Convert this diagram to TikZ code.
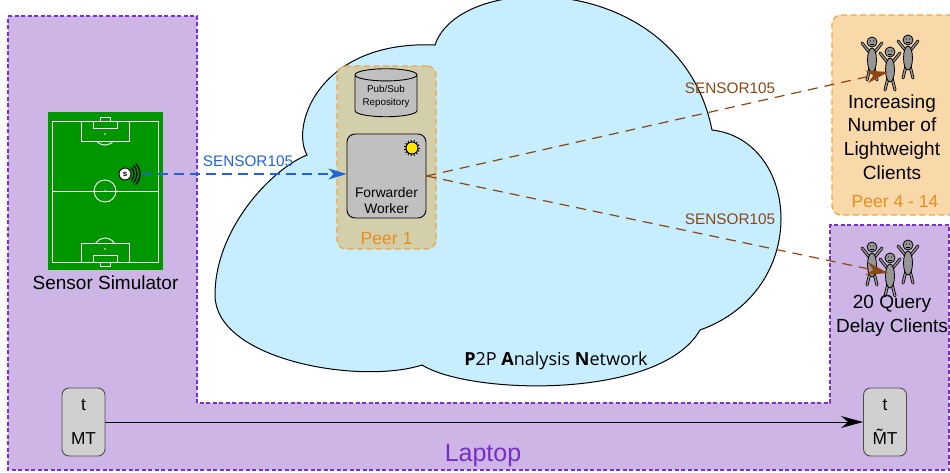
\documentclass[tikz,border=0pt]{standalone}
\usepackage{fontspec}
\setmainfont{Liberation Sans}
\newfontfamily\netfont{Open Sans}
\usetikzlibrary{arrows.meta, shapes.geometric, positioning}

\definecolor{laptopfill}{RGB}{205,182,230}
\definecolor{laptopedge}{RGB}{125,45,210}
\definecolor{laptoptext}{RGB}{120,45,200}
\definecolor{cloudfill}{RGB}{199,238,254}
\definecolor{peeredge}{RGB}{240,165,70}
\definecolor{peertext}{RGB}{235,140,30}
\definecolor{peeronefill}{RGB}{211,207,170}
\definecolor{peerfourfill}{RGB}{249,217,170}
\definecolor{boxgray}{RGB}{192,192,192}
\definecolor{clockgray}{RGB}{208,208,208}
\definecolor{figgray}{RGB}{150,150,150}
\definecolor{grass}{RGB}{0,150,0}
\definecolor{sigblue}{RGB}{30,100,220}
\definecolor{msgbrown}{RGB}{140,70,20}
\definecolor{sunyellow}{RGB}{255,230,0}

\tikzset{
  laptop/.style={fill=laptopfill, draw=laptopedge, line width=1.1pt, dash pattern=on 4pt off 2.5pt},
  cloudline/.style={fill=cloudfill, draw=black, line width=1pt},
  peerbox/.style={draw=peeredge, line width=1.3pt, dash pattern=on 6pt off 3.5pt, rounded corners=9pt, inner sep=0pt},
  peerlabel/.style={text=peertext, inner sep=0pt, font=\fontsize{17.5}{21}\selectfont},
  repo/.style={cylinder, shape border rotate=90, aspect=0.26, draw=black, fill=boxgray, line width=0.9pt,
    minimum width=62pt, minimum height=48pt, align=center, inner sep=0pt, font=\fontsize{9.8}{13}\selectfont},
  worker/.style={draw=black, fill=boxgray, rounded corners=8pt, line width=0.9pt, minimum width=79pt, minimum height=84pt},
  workerlabel/.style={align=center, inner sep=0pt, font=\fontsize{13.8}{16}\selectfont},
  sun/.style={circle, fill=sunyellow, draw=black, line width=0.9pt, minimum size=12pt, inner sep=0pt},
  clock/.style={draw=black!70, fill=clockgray, rounded corners=7pt, line width=0.9pt, minimum width=43pt,
    minimum height=68pt, align=center, inner sep=0pt, font=\fontsize{17.3}{34}\selectfont},
  bigtext/.style={align=center, inner sep=0pt, font=\fontsize{19}{23.7}\selectfont},
  topic/.style={inner sep=0pt, font=\fontsize{15.3}{18}\selectfont},
  sig/.style={draw=sigblue, line width=1.2pt, dash pattern=on 10pt off 6pt, -{Stealth[length=18pt, width=11pt, inset=5pt]}},
  msg/.style={draw=msgbrown, line width=1.2pt, dash pattern=on 10pt off 7pt, -{Stealth[length=22pt, width=13pt, inset=7pt]}},
  pitchline/.style={draw=white, line width=0.9pt},
  client/.pic={
    \foreach \s in {-1,1} {
      \draw[line width=3pt, line cap=round] (2*\s,-7) -- (10*\s,-17) (2*\s,8) -- (5*\s,20);
      \draw[line width=1.4pt, line cap=round, figgray] (2*\s,-7) -- (10*\s,-17) (2*\s,8) -- (5*\s,20);
    }
    \draw[fill=figgray, line width=0.8pt] (0,0) ellipse [x radius=4.5pt, y radius=12pt];
    \draw[fill=figgray, line width=0.8pt] (0,-18) circle [radius=5pt];
    \fill (-1.7,-19) circle [radius=0.6pt] (1.7,-19) circle [radius=0.6pt];
    \draw[line width=0.5pt] (-1.7,-16) -- (1.7,-16);
  }
}

\begin{document}
\begin{tikzpicture}[x=1pt, y=-1pt]
  \useasboundingbox (0,0) rectangle (950,472);

  % laptop area
  \draw[laptop] (8,16) -- (197,16) -- (197,403) -- (830,403) -- (830,225)
    -- (949,225) -- (949,470) -- (8,470) -- cycle;
  \node[text=laptoptext, inner sep=0pt, font=\fontsize{25}{30}\selectfont] (laptop) at (483,455) {Laptop};

  % cloud
  \draw[cloudline] (307,155) .. controls (290,125) and (320,40) .. (435,45)
    .. controls (460,-30) and (680,-30) .. (712,130)
    .. controls (800,140) and (812,290) .. (700,330)
    .. controls (660,400) and (470,395) .. (422,365)
    .. controls (360,385) and (215,360) .. (215,295)
    .. controls (215,230) and (270,170) .. cycle;
  \node[inner sep=0pt, font=\netfont\fontsize{18}{21}\selectfont] (net) at (556,361)
    {\textbf{P}2P \textbf{A}nalysis \textbf{N}etwork};

  % sensor simulator
  \node[fill=grass, minimum width=115pt, minimum height=158pt, inner sep=0pt] (pitch) at (105.5,191) {};
  \draw[pitchline] (52,121) rectangle (158,262);
  \draw[pitchline] (52,191) -- (158,191);
  \draw[pitchline] (105,191) circle [radius=11pt];
  \fill[white] (105,191) circle [radius=0.8pt];
  \draw[pitchline] (81,121) rectangle (129,141) (93,121) rectangle (117,128) (100,117) rectangle (110,121);
  \draw[pitchline] ([shift={(-140:11pt)}]105,134) arc[start angle=-140, end angle=-40, radius=11pt];
  \fill[white] (105,134) circle [radius=0.8pt];
  \draw[pitchline] (81,243) rectangle (129,262) (93,255) rectangle (117,262) (100,262) rectangle (110,266);
  \draw[pitchline] ([shift={(33:11pt)}]105,249) arc[start angle=33, end angle=147, radius=11pt];
  \fill[white] (105,249) circle [radius=0.8pt];
  \node[circle, fill=white, draw=black, line width=0.9pt, minimum size=12pt, inner sep=0pt,
    font=\bfseries\fontsize{8}{8}\selectfont] (sensor) at (125,174) {s};
  \foreach \r in {9,12,15}
    \draw[line width=1.3pt] (sensor.center) ++(-45:\r pt) arc[start angle=-45, end angle=45, radius=\r pt];
  \coordinate (sigout) at (142,174);
  \node[bigtext, below=5pt of pitch] (simlabel) {Sensor Simulator};

  % peer 1
  \node[peerbox, fill=peeronefill, minimum width=99pt, minimum height=183pt] (peer1) at (386.5,157.5) {};
  \node[peerlabel, above=5pt of peer1.south] {Peer 1};
  \node[repo] (repo) at (386,96) {Pub/Sub\\Repository};
  \node[worker] (fwd) at (386.5,176) {};
  \node[workerlabel] at (386.5,201) {Forwarder\\Worker};
  \node[sun] (sun) at (412,148) {};
  \foreach \a in {0,24,...,336}
    \draw[line width=1pt] (sun.center) ++(\a:6pt) -- ++(\a:2pt);

  % peers 4 - 14
  \node[peerbox, fill=peerfourfill, minimum width=138pt, minimum height=200pt] (peer4) at (901,115) {};
  \node[peerlabel] at (895,202) {Peer 4 - 14};
  \pic at (872,60) {client};
  \pic at (908,58) {client};
  \pic at (890,70) {client};
  \node[bigtext] (lwclients) at (892,137) {Increasing\\Number of\\Lightweight\\Clients};
  \coordinate (lwtip) at (888,72);

  % query delay clients
  \pic at (872,265) {client};
  \pic at (908,263) {client};
  \pic at (890,276) {client};
  \node[bigtext] (qdclients) at (892,316) {20 Query\\Delay Clients};
  \coordinate (qdtip) at (888,273);

  % messages
  \draw[sig] (sigout) -- (sigout -| fwd.west);
  \node[topic, text=sigblue] at (248,161) {SENSOR105};
  \draw[msg] (fwd.east) -- (lwtip);
  \draw[msg] (fwd.east) -- (qdtip);
  \node[topic, text=msgbrown] at (730,88) {SENSOR105};
  \node[topic, text=msgbrown] at (730,219) {SENSOR105};

  % clocks
  \node[clock] (mt) at (83.5,422) {t\\MT};
  \node[clock] (mtr) at (885,422) {t\\\~{M}T};
  \draw[line width=1pt, -{Stealth[length=22pt, width=12pt, inset=7pt]}] (mt) -- (mtr);
\end{tikzpicture}
\end{document}
